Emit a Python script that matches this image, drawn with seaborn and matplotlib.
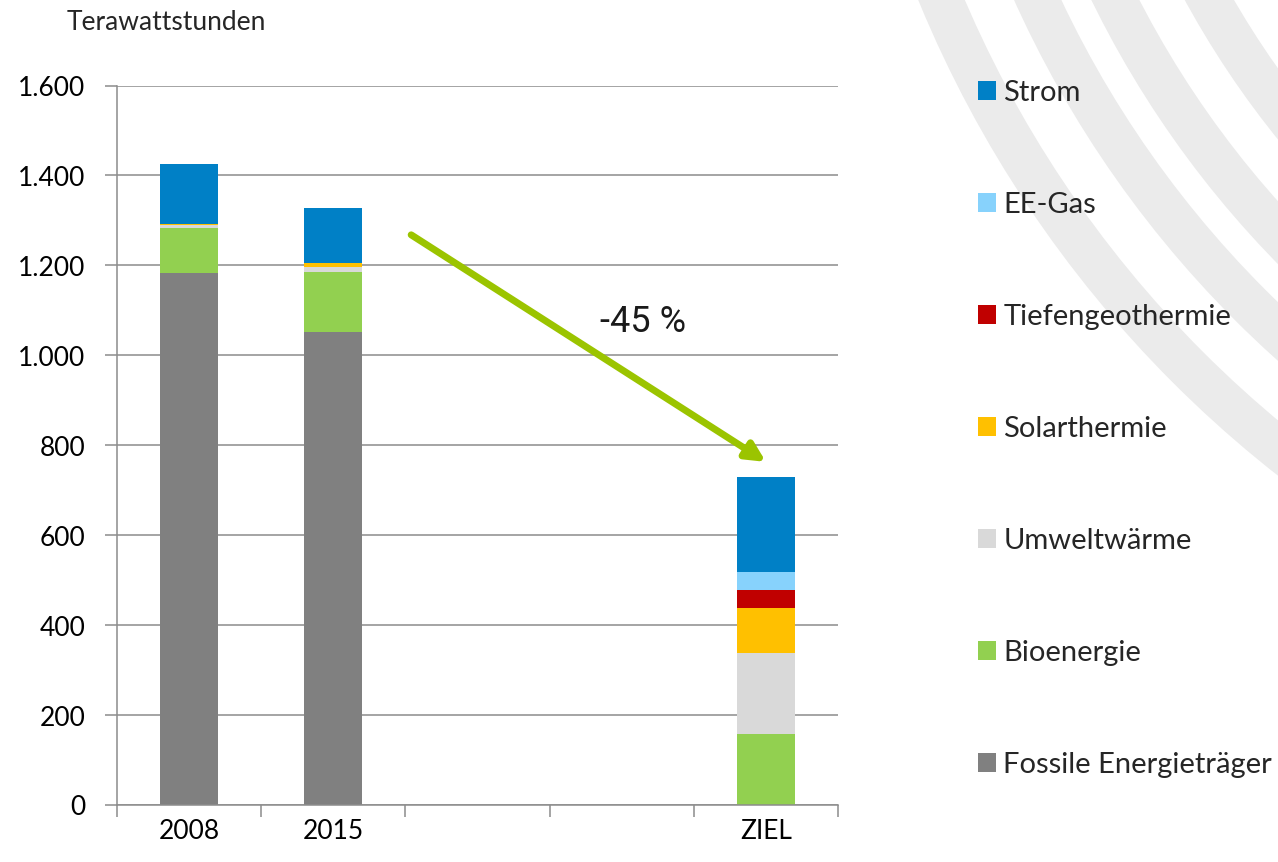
import pandas as pd
import matplotlib
matplotlib.use("Agg")
import matplotlib.pyplot as plt
import matplotlib.patheffects as pe
from matplotlib.patches import Patch, Wedge
from matplotlib.ticker import FuncFormatter
import numpy as np
import seaborn as sns

# categories (two empty slots between 2015 and ZIEL, as in the original chart)
categories = ["2008", "2015", "", " ", "ZIEL"]

# Terawattstunden per source, one value per category
fossil = [1183, 1051, 0, 0, 0]
bio = [100, 135, 0, 0, 158]
umwelt = [6, 11, 0, 0, 181]
solar = [4, 8, 0, 0, 100]
tiefen = [0, 0, 0, 0, 39]
ee_gas = [0, 0, 0, 0, 41]
strom = [132, 122, 0, 0, 210]

# top of stack first (legend order)
sources = ["Strom", "EE-Gas", "Tiefengeothermie", "Solarthermie",
           "Umweltwärme", "Bioenergie", "Fossile Energieträger"]
series = [strom, ee_gas, tiefen, solar, umwelt, bio, fossil]
colors = ["#0080C6", "#87D2FC", "#C00000", "#FFC000",
          "#D9D9D9", "#92D050", "#808080"]
palette = dict(zip(sources, colors))

y_ticks = np.arange(0, 1601, 200)
change_label = "-45 %"

rows = []
for src, vals in zip(sources, series):
    for i, v in enumerate(vals):
        rows.append({"slot": i, "source": src, "value": v})
df = pd.DataFrame(rows)

sns.set_theme(style="white")
plt.rcParams["font.family"] = ["Lato", "DejaVu Sans"]

W, H = 1278, 862
fig = plt.figure(figsize=(W / 100, H / 100 + 0.005), dpi=100)

# decorative grey arcs in the background (pixel coordinates)
bg = fig.add_axes([0, 0, 1, 1], zorder=-5)
bg.set_xlim(0, W)
bg.set_ylim(H, 0)
bg.axis("off")
for r in [1166, 1078, 1008, 925]:
    bg.add_patch(Wedge((1997, -442), r, 0, 360, width=43,
                       facecolor="#EBEBEB", edgecolor="none"))

ax = fig.add_axes([117 / W, 57 / H, 721 / W, 719 / H])
ax.set_facecolor("none")

sns.histplot(data=df, x="slot", weights="value", hue="source",
             hue_order=sources, palette=palette, multiple="stack",
             discrete=True, shrink=0.4, alpha=1, linewidth=0,
             legend=False, ax=ax)

grey = "#8C8C8C"
ax.set_xlim(-0.5, len(categories) - 0.5)
ax.set_ylim(0, 1600)
ax.set_xlabel("")
ax.set_ylabel("")
ax.set_yticks(y_ticks)
ax.yaxis.set_major_formatter(FuncFormatter(lambda v, p: f"{v:,.0f}".replace(",", ".")))
ax.set_xticks(np.arange(-0.5, len(categories), 1))
ax.set_xticklabels([])
ax.set_xticks(range(len(categories)), minor=True)
ax.set_xticklabels(categories, minor=True)
ax.tick_params(axis="y", which="major", direction="out", length=8.6, width=1.1,
               color=grey, pad=14, labelsize=19, labelcolor="black", left=True)
ax.tick_params(axis="x", which="major", direction="out", length=8.6, width=1.1,
               color=grey, bottom=True)
ax.tick_params(axis="x", which="minor", length=0, pad=10, labelsize=19,
               labelcolor="black")
ax.yaxis.grid(True, color=grey, linewidth=1.1)
ax.xaxis.grid(False)
ax.set_axisbelow(True)
for side in ["top", "right"]:
    ax.spines[side].set_visible(False)
for side in ["left", "bottom"]:
    ax.spines[side].set_color(grey)
    ax.spines[side].set_linewidth(1.1)

# trend arrow and label
ann = ax.annotate("", xy=(4.0, 763), xytext=(1.54, 1268),
                  arrowprops=dict(arrowstyle="-|>", color="#9BC400", lw=5,
                                  mutation_scale=28, shrinkA=0, shrinkB=0))
ann.arrow_patch.set_path_effects([pe.SimplePatchShadow(offset=(2, -2), alpha=0.25),
                                  pe.Normal()])
ax.text(3.15, 1075, change_label, fontsize=26, family=["Roboto", "DejaVu Sans"],
        ha="center", va="center", color="#1A1A1A")

fig.text(67 / W, 1 - 22 / H, "Terawattstunden", fontsize=19,
         ha="left", va="center")

handles = [Patch(facecolor=palette[s], edgecolor="none", label=s) for s in sources]
fig.legend(handles=handles, loc="upper left", bbox_to_anchor=(978 / W, 1 - 80 / H),
           frameon=False, fontsize=21, handlelength=0.62, handleheight=0.62,
           handletextpad=0.25, labelspacing=2.95, borderpad=0, borderaxespad=0)

fig.savefig("out.png", dpi=100)
